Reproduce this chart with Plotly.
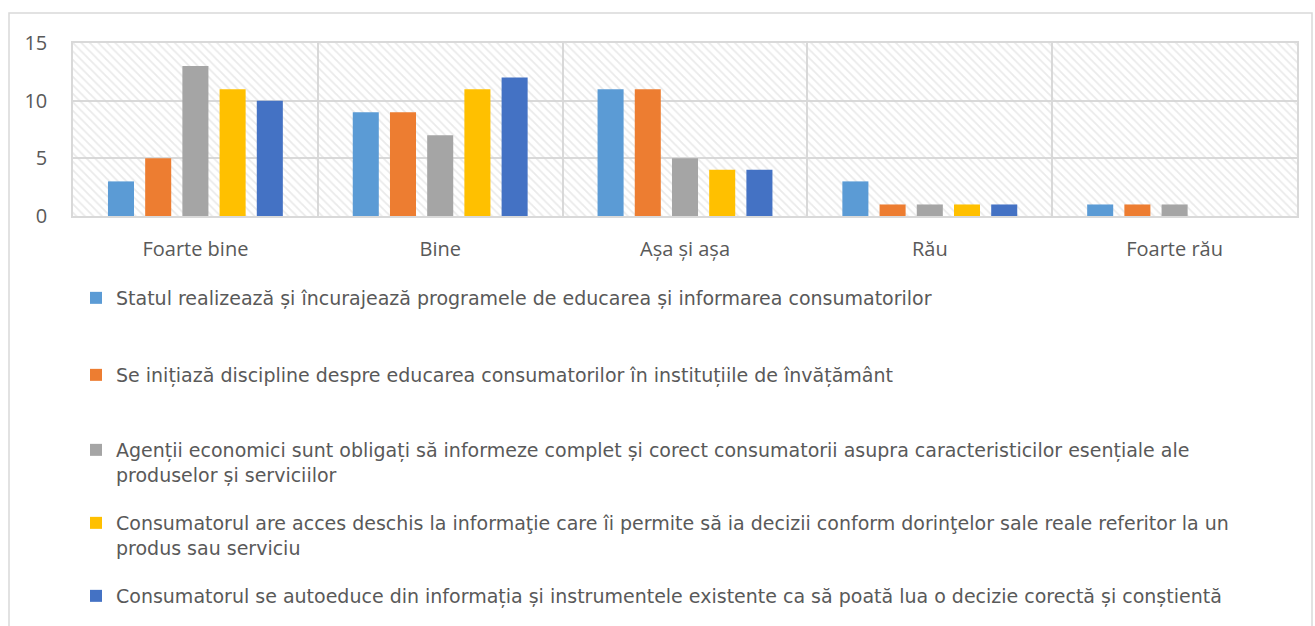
import plotly.graph_objects as go

# Survey answers (number of respondents) per rating category
categories = ["Foarte bine", "Bine", "Așa și așa", "Rău", "Foarte rău"]

series_names = [
    "Statul realizează și încurajează programele de educarea și informarea consumatorilor",
    "Se inițiază discipline despre educarea consumatorilor în instituțiile de învățământ",
    "Agenții economici sunt obligați să informeze complet și corect consumatorii asupra caracteristicilor esențiale ale<br>produselor și serviciilor",
    "Consumatorul are acces deschis la informaţie care îi permite să ia decizii conform dorinţelor sale reale referitor la un<br>produs sau serviciu",
    "Consumatorul se autoeduce din informația și instrumentele existente ca să poată lua o decizie corectă și conștientă",
]

statul = [3, 9, 11, 3, 1]
discipline = [5, 9, 11, 1, 1]
agenti = [13, 7, 5, 1, 1]
acces = [11, 11, 4, 1, 0]
autoeducare = [10, 12, 4, 1, 0]

y_ticks = [0, 5, 10, 15]

values = [statul, discipline, agenti, acces, autoeducare]
colors = ["#5B9BD5", "#ED7D31", "#A5A5A5", "#FFC000", "#4472C4"]

W, H = 1315, 626
PLOT_L, PLOT_R, PLOT_T, PLOT_B = 73, 1297, 43, 216


def px_x(px):
    return (px - PLOT_L) / (PLOT_R - PLOT_L)


def px_y(py):
    return (PLOT_B - py) / (PLOT_B - PLOT_T)


FONT = "Open Sans"
LEGEND_FONT = "DejaVu Sans"
TXT = "#595959"
GRID = "#d9d9d9"

fig = go.Figure()

# Hatched background of the plot area (drawn on the base axes, below the data)
fig.add_trace(go.Bar(
    x=[0.5], y=[1], width=[1], xaxis="x", yaxis="y",
    marker=dict(
        color="rgba(0,0,0,0)", line=dict(width=0),
        pattern=dict(shape="\\", fgcolor="#d6d6d6", bgcolor="rgba(0,0,0,0)",
                     size=6, solidity=0.3, fillmode="overlay"),
    ),
    showlegend=False, hoverinfo="skip",
))

# Legend entries: top edge of each entry, in pixels from the top of the figure
legend_tops = [279, 356, 431, 504, 577]
legend_ids = ["legend", "legend2", "legend3", "legend4", "legend5"]

for name, vals, col, lid in zip(series_names, values, colors, legend_ids):
    fig.add_trace(go.Bar(
        x=categories, y=vals, name=name,
        marker=dict(color=col, line=dict(width=0)),
        xaxis="x2", yaxis="y2", legend=lid,
    ))

legend_common = dict(
    x=76 / W, xref="container", xanchor="left",
    yref="container", yanchor="top",
    bgcolor="rgba(0,0,0,0)", borderwidth=0,
    font=dict(family=LEGEND_FONT, size=19, color=TXT),
    valign="top", itemclick=False, itemdoubleclick=False,
)

layout_legends = {}
for lid, top in zip(legend_ids, legend_tops):
    layout_legends[lid] = dict(legend_common, y=1 - top / H)

fig.update_layout(
    width=W, height=H,
    margin=dict(l=PLOT_L, r=W - PLOT_R, t=PLOT_T, b=H - PLOT_B,
                autoexpand=False),
    paper_bgcolor="white", plot_bgcolor="rgba(0,0,0,0)",
    barmode="group", bargap=0.24, bargroupgap=0.30,
    xaxis=dict(range=[0, 1], visible=False, fixedrange=True),
    yaxis=dict(range=[0, 1], visible=False, fixedrange=True),
    xaxis2=dict(
        overlaying="x", anchor="y2", type="category",
        tickson="boundaries", ticks="", showgrid=True,
        gridcolor=GRID, gridwidth=1.5, tickangle=0,
        showline=True, mirror=True, linecolor=GRID, linewidth=1.5,
        tickfont=dict(family=FONT, size=20, color=TXT),
        ticklabelstandoff=14,
    ),
    yaxis2=dict(
        overlaying="y", anchor="x2", range=[0, 15],
        tickvals=y_ticks, ticks="", showgrid=True,
        gridcolor=GRID, gridwidth=1.5, zeroline=False,
        showline=True, mirror=True, linecolor=GRID, linewidth=1.5,
        tickfont=dict(family=FONT, size=20, color=TXT),
        ticklabelstandoff=20,
    ),
    showlegend=True,
    **layout_legends,
    shapes=[dict(
        type="rect", xref="paper", yref="paper",
        x0=px_x(9), x1=px_x(1312), y0=px_y(640), y1=px_y(13),
        line=dict(color=GRID, width=1.5), fillcolor="rgba(0,0,0,0)",
        layer="below",
    )],
)

fig.write_html("out.html")
